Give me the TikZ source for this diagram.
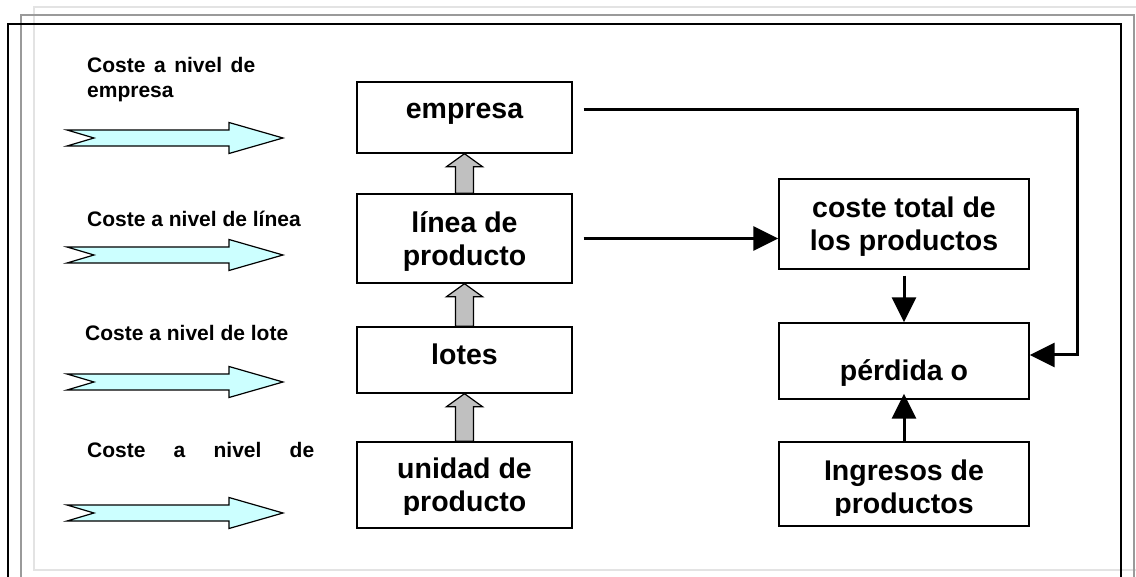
\documentclass[tikz,border=0pt]{standalone}
\usepackage{fontspec}
\setmainfont{Liberation Sans}
\usetikzlibrary{arrows.meta}
\definecolor{paleCyan}{HTML}{CCFFFF}
\definecolor{arrowGray}{HTML}{C0C0C0}
\definecolor{frameLight}{HTML}{E3E3E3}
\definecolor{frameMid}{HTML}{9A9A9A}
\begin{document}
\begin{tikzpicture}[x=1pt,y=-1pt,
  box/.style={draw, line width=1.4pt, minimum width=215pt, inner sep=0pt},
  rbox/.style={draw, line width=1.4pt, minimum width=250pt, inner sep=0pt},
  boxtext/.style={font=\bfseries\fontsize{28.5}{33}\selectfont, align=center, inner sep=0pt},
  lbl/.style={font=\bfseries\fontsize{21}{25}\selectfont, align=left, inner sep=0pt},
  flow/.style={line width=3pt, -{Triangle[length=25pt,width=24pt]}},
  levelarrow/.style={draw, line width=1.2pt, fill=paleCyan, line join=miter},
  uparrow/.style={draw, line width=1.2pt, fill=arrowGray, line join=miter}]
\useasboundingbox (0,0) rectangle (1136,577);
\clip (0,0) rectangle (1136,577);

% page frames
\draw[frameLight, line width=1.2pt] (34,7) rectangle (1150,570);
\draw[frameMid, line width=1.5pt] (21,15) rectangle (1134,600);
\draw[black, line width=1.5pt] (8,24) rectangle (1121,600);

% cost levels: labels and block arrows
\node[lbl, anchor=west] (l1) at (87,80) {\makebox[168pt][s]{Coste a nivel de}\\empresa};
\node[lbl, anchor=base west] (l2) at (87,227) {Coste a nivel de línea};
\node[lbl, anchor=base west] (l3) at (85,341) {Coste a nivel de lote};
\node[lbl, anchor=base west] (l4) at (87,457) {\makebox[227pt][s]{Coste a nivel de}};
\foreach \c in {138,255,382,513}{
  \draw[levelarrow] (67,{\c-8}) -- (229,{\c-8}) -- (229,{\c-15.5}) -- (283,\c)
    -- (229,{\c+15.5}) -- (229,{\c+8}) -- (67,{\c+8}) -- (94,\c) -- cycle;
}

% hierarchy boxes
\node[box, minimum height=71pt] (emp) at (464.5,117.5) {};
\node[box, minimum height=89pt] (lin) at (464.5,238.5) {};
\node[box, minimum height=66pt] (lot) at (464.5,360) {};
\node[box, minimum height=86pt] (uni) at (464.5,485) {};
\node[boxtext] (empT) at (464.5,114) {empresa};
\node[boxtext] (linT) at (464.5,241.3) {línea de\\producto};
\node[boxtext] (lotT) at (464.5,354.8) {lotes};
\begin{scope}
  \clip (357,442) rectangle (572,514);
  \node[boxtext] (uniT) at (464.5,488) {unidad de\\producto};
\end{scope}

% result boxes
\node[rbox, minimum height=90pt] (tot) at (904,224) {};
\node[rbox, minimum height=76pt] (per) at (904,361) {};
\node[rbox, minimum height=84pt] (ing) at (904,484) {};
\node[boxtext] (totT) at (904,226.3) {coste total de\\los productos};
\node[boxtext] (perT) at (904,372.7) {pérdida o};
\begin{scope}
  \clip (779,442) rectangle (1029,515);
  \node[boxtext] (ingT) at (904,490) {Ingresos de\\productos};
\end{scope}

% grey arrows between hierarchy levels
\foreach \lo/\hi in {lin/emp, lot/lin, uni/lot}{
  \draw[uparrow] ([xshift=-9pt]\lo.north) -- ([xshift=-9pt,yshift=-13pt]\hi.south)
    -- ([xshift=-18pt,yshift=-13pt]\hi.south) -- (\hi.south)
    -- ([xshift=18pt,yshift=-13pt]\hi.south) -- ([xshift=9pt,yshift=-13pt]\hi.south)
    -- ([xshift=9pt]\lo.north) -- cycle;
}

% flows
\coordinate (bend) at (1077,110);
\draw[flow] ([xshift=11pt,yshift=7.5pt]emp.east) -- (bend) |- ([yshift=6pt]per.east);
\draw[flow] ([xshift=11pt]lin.east) -- (tot.west |- lin.east);
\draw[flow] ([yshift=-6pt]tot.south) -- (per.north);
\draw[flow] (ing.north) -- ([yshift=6pt]per.south);
\end{tikzpicture}
\end{document}
